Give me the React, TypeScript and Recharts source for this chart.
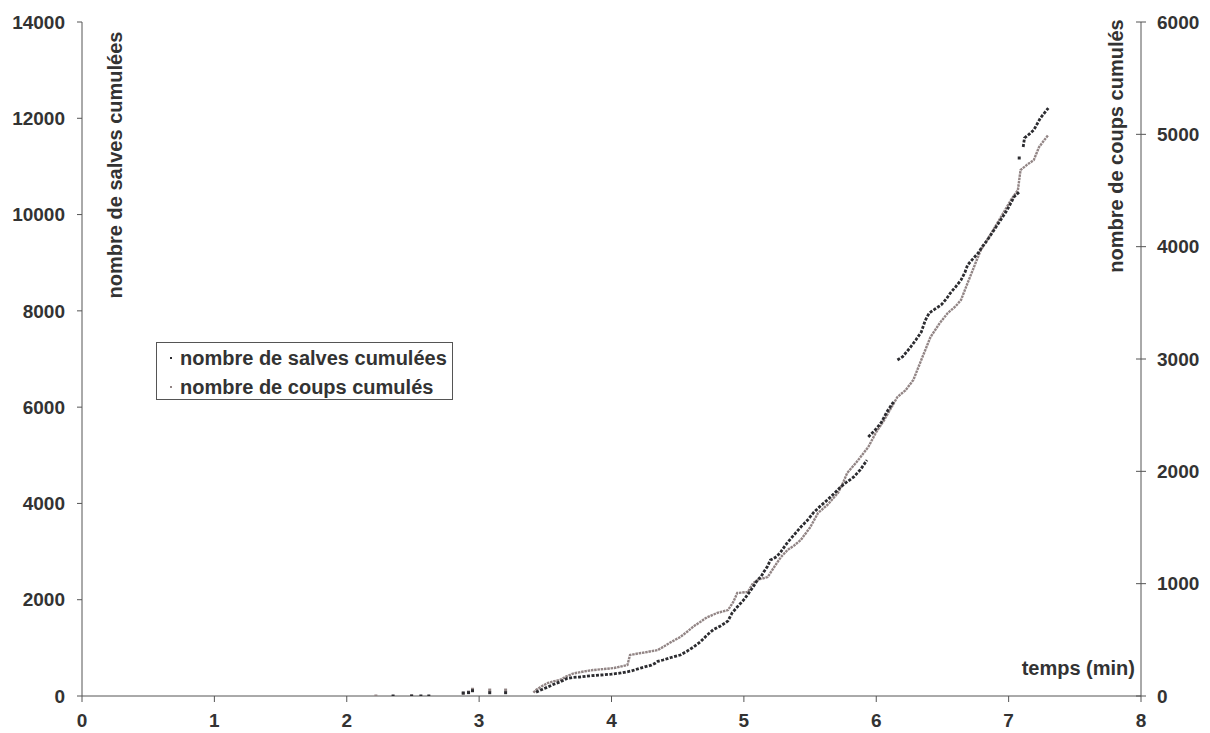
import React from 'react';
import { ComposedChart, Line, Scatter, XAxis, YAxis, Legend, Label } from 'recharts';

// ---- tick values ----
const timeTicks = [0, 1, 2, 3, 4, 5, 6, 7, 8];
const salvesTicks = [0, 2000, 4000, 6000, 8000, 10000, 12000, 14000];
const coupsTicks = [0, 1000, 2000, 3000, 4000, 5000, 6000];

// ---- labels ----
const salvesLabel = 'nombre de salves cumulées';
const coupsLabel = 'nombre de coups cumulés';
const timeLabel = 'temps (min)';

// ---- series: cumulative bursts (salves), left axis ----
const salvesTime = [
  3.43, 3.47, 3.52, 3.56, 3.61, 3.66, 3.71, 3.76, 3.84, 3.92, 4.0, 4.07, 4.15, 4.22, 4.3, 4.33, 4.35,
  4.39, 4.45, 4.52, 4.57, 4.62, 4.67, 4.72, 4.77, 4.82, 4.86, 4.88, 4.91, 4.95, 5.0, 5.04, 5.07, 5.1,
  5.13, 5.15, 5.18, 5.2, 5.22, 5.25, 5.28, 5.33, 5.38, 5.43, 5.48, 5.53, 5.58, 5.63, 5.68, 5.73, 5.78,
  5.83, 5.88, 5.93, 5.935, 5.94, 6.0, 6.04, 6.08, 6.13, 6.145, 6.16, 6.2, 6.26, 6.3, 6.34, 6.37, 6.4,
  6.45, 6.49, 6.53, 6.56, 6.6, 6.64, 6.67, 6.69, 6.73, 6.77, 6.8, 6.84, 6.89, 6.94, 6.99, 7.04, 7.08,
  7.09, 7.11, 7.12, 7.16, 7.19, 7.24, 7.3,
];
const salvesCount: (number | null)[] = [
  80, 130, 187, 240, 291, 360, 385, 395, 420, 436, 455, 478, 520, 581, 640, 680, 720,
  748, 800, 852, 930, 1018, 1122, 1260, 1380, 1450, 1520, 1560, 1720, 1850, 2000, 2150, 2264, 2400,
  2480, 2575, 2700, 2825, 2850, 2900, 3000, 3190, 3350, 3510, 3650, 3822, 3950, 4071, 4200, 4341, 4450,
  4549, 4700, 4900, null, 5380, 5550, 5690, 5900, 6106, null, 6979, 7050, 7249, 7400, 7560, 7800, 7955,
  8050, 8121, 8250, 8370, 8500, 8640, 8800, 8952, 9080, 9201, 9330, 9471, 9680, 9886, 10100, 10364, 10468,
  null, 11403, 11590, 11680, 11756, 12005, 12213,
];
const salvesDotTime = [2.35, 2.49, 2.56, 2.62, 2.88, 2.92, 2.95, 3.08, 3.2, 7.08];
const salvesDotCount = [0, 0, 0, 0, 62, 70, 110, 69, 69, 11175];

// ---- series: cumulative shots (coups), right axis ----
const coupsTime = [
  3.41, 3.43, 3.47, 3.52, 3.56, 3.61, 3.66, 3.71, 3.77, 3.86, 3.94, 4.02, 4.12, 4.14, 4.2, 4.27, 4.35,
  4.45, 4.52, 4.58, 4.62, 4.67, 4.72, 4.8, 4.88, 4.92, 4.95, 5.03, 5.07, 5.12, 5.18, 5.23, 5.28, 5.33,
  5.38, 5.43, 5.5, 5.56, 5.63, 5.71, 5.75, 5.78, 5.85, 5.94, 6.0, 6.06, 6.11, 6.16, 6.22, 6.28, 6.34,
  6.41, 6.48, 6.54, 6.6, 6.64, 6.69, 6.75, 6.79, 6.87, 6.96, 7.02, 7.07, 7.09, 7.14, 7.19, 7.23, 7.27, 7.3,
];
const coupsCount = [
  30, 53, 85, 116, 130, 142, 175, 200, 214, 231, 240, 249, 276, 365, 378, 392, 409,
  480, 525, 580, 620, 659, 700, 740, 765, 837, 917, 926, 1006, 1040, 1059, 1150, 1237, 1300,
  1340, 1389, 1500, 1629, 1700, 1807, 1900, 1985, 2080, 2217, 2350, 2457, 2560, 2662, 2720, 2813, 2991,
  3196, 3320, 3409, 3470, 3525, 3676, 3854, 3970, 4121, 4300, 4420, 4504, 4682, 4730, 4771, 4887, 4950, 4994,
];
const coupsDotTime = [2.22, 2.49, 2.88, 2.92, 2.95, 3.08, 3.2];
const coupsDotCount = [0, 0, 25, 35, 60, 53, 53];

const salvesData = salvesTime.map((t, i) => ({ t, v: salvesCount[i] }));
const coupsData = coupsTime.map((t, i) => ({ t, v: coupsCount[i] }));
const salvesDots = salvesDotTime.map((t, i) => ({ t, v: salvesDotCount[i] }));
const coupsDots = coupsDotTime.map((t, i) => ({ t, v: coupsDotCount[i] }));

const BLACK = '#2c2c30';
const GRAY = '#928585';
const TEXT = '#333333';
const AXIS = '#555555';
const FONT = '"Liberation Sans", Arial, Helvetica, sans-serif';

const squareShape = (color: string) => (props: any) => (
  <rect x={props.cx - 1.5} y={props.cy - 1.5} width={3} height={3} fill={color} />
);

const RightTick = (props: any) => {
  const { x, y, payload } = props;
  const ax = x - 16;
  return (
    <g>
      <line x1={ax - 5} x2={ax + 5} y1={y} y2={y} stroke={AXIS} strokeWidth={1} />
      <text x={x} y={y} dy="0.355em" textAnchor="start" fill={TEXT} fontSize={19} fontWeight="bold" fontFamily={FONT}>
        {payload.value}
      </text>
    </g>
  );
};

const LegendBox = () => (
  <div
    style={{
      position: 'relative',
      width: 297,
      height: 58,
      boxSizing: 'border-box',
      border: `1px solid ${AXIS}`,
      background: '#fff',
      fontFamily: FONT,
      fontWeight: 'bold',
      fontSize: 20,
      color: TEXT,
    }}
  >
    {[
      { name: salvesLabel, color: BLACK, top: 3 },
      { name: coupsLabel, color: GRAY, top: 32 },
    ].map((r) => (
      <div key={r.name} style={{ position: 'absolute', left: 0, top: r.top, height: 24, lineHeight: '24px', whiteSpace: 'nowrap' }}>
        <span style={{ position: 'absolute', left: 13, top: 11, width: 2, height: 2, background: r.color }} />
        <span style={{ position: 'absolute', left: 23, top: 0 }}>{r.name}</span>
      </div>
    ))}
  </div>
);

export default function App() {
  const tickStyle = { fill: TEXT, fontSize: 19, fontWeight: 'bold' as const, fontFamily: FONT };
  return (
    <div style={{ position: 'absolute', left: 0, top: 0, width: 1210, height: 733, background: '#fff' }}>
      <ComposedChart width={1210} height={733} margin={{ top: 22, right: 0, bottom: 0, left: 0 }}>
        <XAxis
          type="number"
          dataKey="t"
          domain={[0, 8]}
          ticks={timeTicks}
          allowDataOverflow
          height={37}
          tickSize={6}
          tickMargin={12}
          tick={tickStyle}
          axisLine={{ stroke: AXIS }}
          tickLine={{ stroke: AXIS }}
        >
          <Label
            content={(p: any) => {
              const vb = p.viewBox || { x: 82, y: 696, width: 1059 };
              return (
                <text x={vb.x + vb.width - 6} y={vb.y - 21} textAnchor="end" fill={TEXT} fontSize={20} fontWeight="bold" fontFamily={FONT}>
                  {timeLabel}
                </text>
              );
            }}
          />
        </XAxis>
        <YAxis
          yAxisId="l"
          type="number"
          domain={[0, 14000]}
          ticks={salvesTicks}
          allowDataOverflow
          width={82}
          tickSize={5}
          tickMargin={12}
          tick={tickStyle}
          axisLine={{ stroke: AXIS }}
          tickLine={{ stroke: AXIS }}
        >
          <Label
            content={(p: any) => {
              const vb = p.viewBox || { x: 0, y: 22, width: 82, height: 674 };
              const cx = vb.x + vb.width + 33;
              const cy = 165;
              return (
                <text x={cx} y={cy} transform={`rotate(-90 ${cx} ${cy})`} textAnchor="middle" dominantBaseline="central" fill={TEXT} fontSize={20} fontWeight="bold" fontFamily={FONT}>
                  {salvesLabel}
                </text>
              );
            }}
          />
        </YAxis>
        <YAxis
          yAxisId="r"
          type="number"
          orientation="right"
          domain={[0, 6000]}
          ticks={coupsTicks}
          allowDataOverflow
          width={69}
          tickSize={5}
          tickMargin={11}
          tickLine={false}
          tick={<RightTick />}
          axisLine={{ stroke: AXIS }}
        >
          <Label
            content={(p: any) => {
              const vb = p.viewBox || { x: 1141, y: 22, width: 69, height: 674 };
              const cx = vb.x - 25;
              const cy = 146;
              return (
                <text x={cx} y={cy} transform={`rotate(-90 ${cx} ${cy})`} textAnchor="middle" dominantBaseline="central" fill={TEXT} fontSize={20} fontWeight="bold" fontFamily={FONT}>
                  {coupsLabel}
                </text>
              );
            }}
          />
        </YAxis>
        <Legend
          layout="horizontal"
          verticalAlign="middle"
          align="center"
          content={() => <LegendBox />}
          wrapperStyle={{ left: 156, top: 342, width: 297, height: 58 }}
        />
        <Line
          yAxisId="r"
          data={coupsData}
          dataKey="v"
          type="linear"
          stroke={GRAY}
          strokeWidth={2.4}
          strokeDasharray="2.5 0.8"
          dot={false}
          activeDot={false}
          isAnimationActive={false}
          legendType="none"
        />
        <Scatter yAxisId="r" data={coupsDots} dataKey="v" fill={GRAY} shape={squareShape(GRAY)} isAnimationActive={false} legendType="none" />
        <Line
          yAxisId="l"
          data={salvesData}
          dataKey="v"
          type="linear"
          stroke={BLACK}
          strokeWidth={2.8}
          strokeDasharray="3 1.5"
          dot={false}
          activeDot={false}
          isAnimationActive={false}
          legendType="none"
        />
        <Scatter yAxisId="l" data={salvesDots} dataKey="v" fill={BLACK} shape={squareShape(BLACK)} isAnimationActive={false} legendType="none" />
      </ComposedChart>
    </div>
  );
}
